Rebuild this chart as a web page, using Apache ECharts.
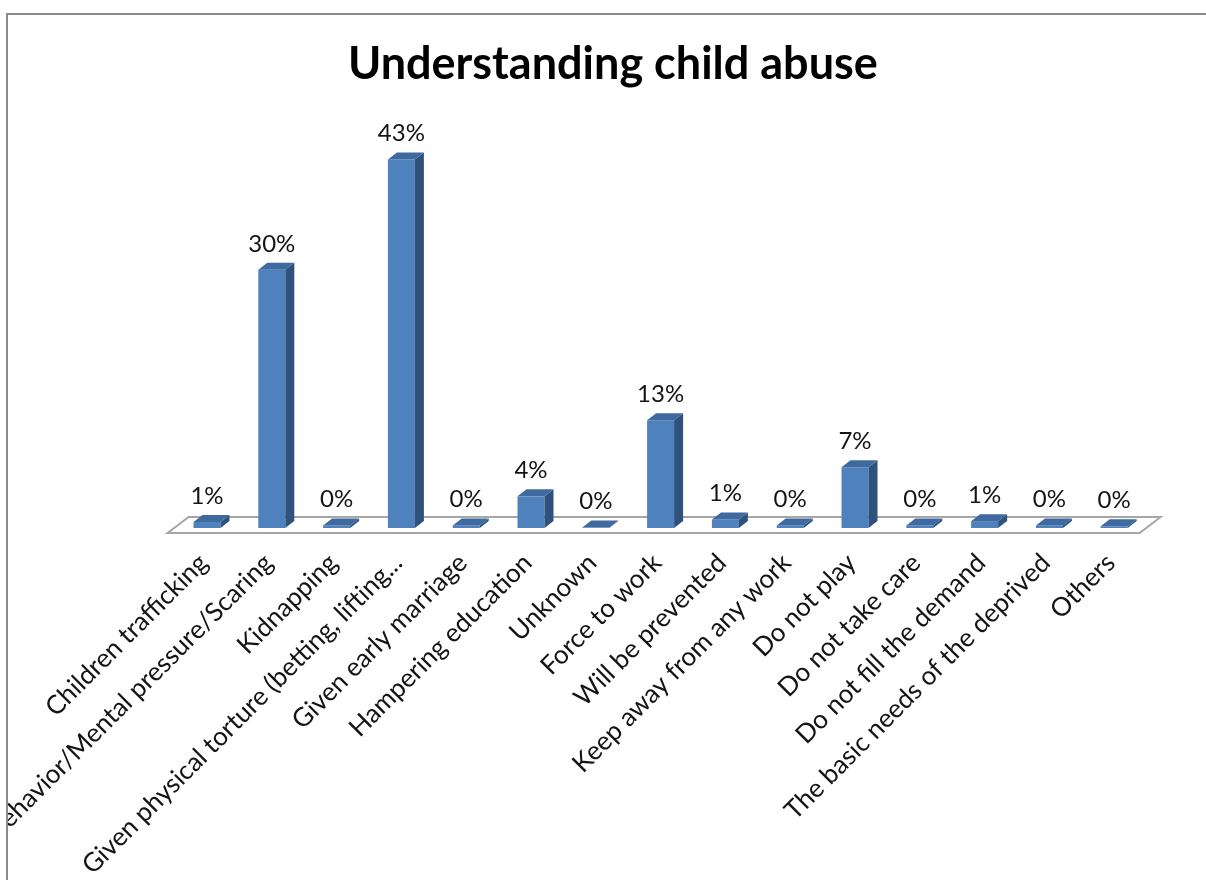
<!DOCTYPE html>
<html>
<head>
<meta charset="utf-8">
<script src="https://cdn.jsdelivr.net/npm/echarts@6/dist/echarts.min.js"></script>
<style>
  html, body { margin: 0; padding: 0; background: #fff; width: 1206px; height: 880px; overflow: hidden; }
  #frame { position: absolute; left: 6px; top: 13px; width: 1300px; height: 900px;
           border-left: 2px solid #8c8c8c; border-top: 2px solid #8c8c8c; overflow: hidden; background: #fff; }
  #chart { position: absolute; left: -8px; top: -15px; width: 1206px; height: 880px; }
</style>
</head>
<body>
<div id="frame"><div id="chart"></div></div>
<script>
const categories = [
  'Children trafficking',
  'Bad behavior/Mental pressure/Scaring',
  'Kidnapping',
  'Given physical torture (betting, lifting...',
  'Given early marriage',
  'Hampering education',
  'Unknown',
  'Force to work',
  'Will be prevented',
  'Keep away from any work',
  'Do not play',
  'Do not take care',
  'Do not fill the demand',
  'The basic needs of the deprived',
  'Others'
];
const values = [0.7, 30.2, 0.3, 43.1, 0.3, 3.7, 0.05, 12.6, 1.0, 0.3, 7.1, 0.3, 0.8, 0.3, 0.2];
const titleText = 'Understanding child abuse';

const FONT = 'Lato, "Open Sans", sans-serif';
const FRONT = '#4f81bd', TOP = '#3f6a9f', SIDE = '#2f527c';
const DX = 9, DY = 7, BAR_W = 27;

const chart = echarts.init(document.getElementById('chart'), null, { renderer: 'canvas' });

const option = {
  animation: false,
  backgroundColor: '#fff',
  title: {
    text: titleText,
    left: 343,
    top: 37,
    textStyle: { fontFamily: FONT, fontWeight: 'bold', fontSize: 45, color: '#000' }
  },
  grid: { left: 174.6, right: 59.4, top: 100.5, bottom: 352, outerBoundsMode: 'none', containLabel: false },
  xAxis: {
    type: 'category',
    data: categories,
    axisLine: { show: false },
    axisTick: { show: false },
    axisLabel: { rotate: 45, interval: 0, margin: 27, padding: [0, 5, 0, 0], fontFamily: FONT, fontSize: 26, color: '#141414' }
  },
  yAxis: { type: 'value', min: 0, max: 50, show: false, splitLine: { show: false } },
  series: [
    {
      type: 'custom',
      silent: true,
      z: 1,
      data: [0],
      renderItem: function (params, api) {
        const cs = params.coordSys;
        const base = api.coord([0, 0])[1];
        const x0 = cs.x, x1 = cs.x + cs.width;
        const fy = base + 5, by = base - 11;
        return {
          type: 'polygon',
          shape: { points: [[x0 - 7, fy], [x1 - 7, fy], [x1 + 14, by], [x0 + 14, by]] },
          style: { fill: '#fff', stroke: '#a6a6a6', lineWidth: 2 }
        };
      }
    },
    {
      type: 'custom',
      z: 2,
      data: values.map((v, i) => [i, v]),
      encode: { x: 0, y: 1 },
      renderItem: function (params, api) {
        const i = api.value(0), v = api.value(1);
        const top = api.coord([i, v]);
        const base = api.coord([i, 0])[1];
        const cx = top[0], ty = top[1];
        const l = cx - BAR_W / 2, r = cx + BAR_W / 2;
        return {
          type: 'group',
          children: [
            { type: 'rect', shape: { x: l, y: ty, width: BAR_W, height: base - ty }, style: { fill: FRONT } },
            { type: 'polygon', shape: { points: [[r, ty], [r + DX, ty - DY], [r + DX, base - DY], [r, base]] }, style: { fill: SIDE } },
            { type: 'polygon', shape: { points: [[l, ty], [l + DX, ty - DY], [r + DX, ty - DY], [r, ty]] }, style: { fill: TOP } },
            { type: 'text', style: { x: cx, y: ty - 26, text: Math.round(v) + '%', align: 'center', verticalAlign: 'middle',
                font: '24px ' + FONT, fill: '#141414' } }
          ]
        };
      }
    }
  ]
};
chart.setOption(option);
</script>
</body>
</html>
